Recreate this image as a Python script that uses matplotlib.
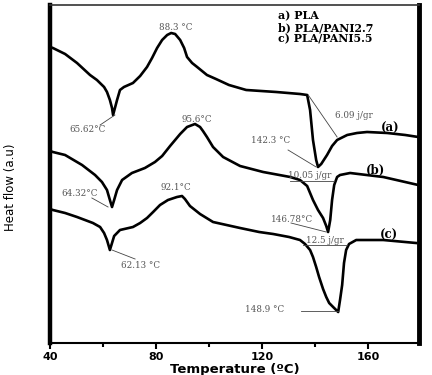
import numpy as np
import matplotlib.pyplot as plt
from matplotlib.ticker import MultipleLocator

plt.rcParams.update({
    "font.family": "DejaVu Sans",
    "axes.linewidth": 1.5,
})

# DSC traces: temperature (°C) and heat flow (a.u.)
t_pla = [40.0, 41.1, 45.7, 50.2, 55.1, 57.7, 60.4, 61.5, 62.6, 63.4, 63.8, 64.5, 65.3, 66.4,
         67.9, 71.3, 74.0, 76.6, 78.5, 80.4, 82.3, 84.2, 85.7, 87.2, 89.1, 90.6, 91.7, 93.6,
         95.5, 99.2, 102.6, 107.5, 114.0, 125.3, 134.3, 137.0, 138.1, 139.2, 140.4, 141.1,
         142.3, 144.5, 146.4, 148.3, 152.1, 155.8, 159.6, 167.2, 174.0, 178.9]
hf_pla = [296, 295, 289, 280, 268, 263, 256, 251, 243, 235, 228, 235, 243, 253,
          256, 260, 267, 276, 285, 295, 303, 308, 310, 309, 303, 295, 286, 280,
          276, 268, 264, 258, 253, 251, 249, 248, 233, 203, 183, 176,
          179, 188, 197, 203, 208, 210, 211, 210, 208, 206]

t_p27 = [40.0, 41.1, 45.7, 52.1, 57.0, 59.6, 61.5, 62.6, 63.4, 64.2, 65.3, 67.2, 70.9, 75.8,
         79.6, 82.3, 85.3, 87.2, 89.1, 91.7, 94.7, 96.6, 97.7, 99.2, 101.5, 105.3, 111.7,
         120.4, 130.6, 134.3, 137.0, 139.2, 141.1, 143.0, 144.2, 144.9, 145.7, 146.4, 147.2,
         148.3, 149.4, 153.2, 165.7, 178.9]
hf_p27 = [192, 191, 188, 178, 168, 161, 153, 143, 136, 143, 153, 163, 170, 175,
          181, 187, 197, 203, 209, 216, 219, 216, 212, 206, 196, 186, 177,
          171, 166, 163, 157, 143, 133, 125, 117, 111, 123, 143, 158,
          166, 168, 170, 166, 158]

t_p55 = [40.0, 41.1, 45.7, 50.2, 56.2, 58.9, 60.4, 61.5, 62.6, 63.4, 64.2, 66.4, 71.3, 74.0,
         76.6, 78.9, 81.5, 84.5, 87.9, 89.8, 90.9, 92.8, 96.6, 101.5, 111.7, 118.9, 124.2,
         130.2, 134.3, 136.2, 138.1, 139.2, 140.4, 141.5, 143.0, 144.2, 145.3, 146.8, 148.7,
         149.4, 150.2, 150.9, 151.7, 152.8, 155.5, 165.7, 178.1]
hf_p55 = [134, 133, 130, 126, 120, 116, 110, 103, 93, 100, 107, 113, 116, 120,
          125, 131, 138, 143, 146, 147, 144, 137, 129, 121, 115, 111, 109,
          106, 103, 99, 93, 86, 76, 66, 54, 46, 40, 36, 31,
          43, 58, 80, 93, 99, 103, 103, 100]

legend_lines = ["a) PLA", "b) PLA/PANI2.7", "c) PLA/PANI5.5"]

# annotation text, text position, leader line (x0, y0, x1, y1) or None
notes = [
    ("88.3 °C", 87.5, 315, None),
    ("65.62°C", 54.0, 213, (64.5, 228, 58.9, 218)),
    ("95.6°C", 95.5, 223, None),
    ("64.32°C", 51.3, 150, (55.8, 145, 61.9, 136)),
    ("92.1°C", 87.5, 156, None),
    ("62.13 °C", 74.3, 78, (63.4, 93, 72.1, 84)),
    ("6.09 j/gr", 154.7, 227, (137.4, 248, 148.3, 206)),
    ("142.3 °C", 123.4, 202, (129.8, 193, 140.4, 176)),
    ("10.05 j/gr", 138.1, 168, (130.6, 162, 147.2, 162)),
    ("146.78°C", 131.3, 124, (130.9, 120, 144.2, 111)),
    ("12.5 j/gr", 143.8, 103, (135.5, 98, 152.1, 98)),
    ("148.9 °C", 121.1, 34, (134.7, 32, 148.7, 32)),
]
curve_tags = [("(a)", 168.3, 215), ("(b)", 162.6, 173), ("(c)", 167.9, 108)]

fig = plt.figure(figsize=(4.32, 3.75), dpi=100)
ax = fig.add_axes([0.1157, 0.0853, 0.8543, 0.9014])

for t, hf in [(t_pla, hf_pla), (t_p27, hf_p27), (t_p55, hf_p55)]:
    ax.plot(t, hf, color="black", linewidth=1.9, solid_joinstyle="round")

for txt, x, y, line in notes:
    ax.text(x, y, txt, fontsize=6.3, family="DejaVu Serif", color="#555555",
            ha="center", va="center")
    if line is not None:
        ax.plot([line[0], line[2]], [line[1], line[3]], color="#444444", linewidth=0.6)

for txt, x, y in curve_tags:
    ax.text(x, y, txt, fontsize=8.5, family="DejaVu Serif", fontweight="bold",
            ha="center", va="center")

for i, txt in enumerate(legend_lines):
    ax.text(126.0, 327 - 11.5 * i, txt, fontsize=7.9, family="DejaVu Serif",
            fontweight="bold", ha="left", va="center")

ax.set_xlim(40, 179.2)
ax.set_ylim(0, 338)
ax.set_yticks([])
ax.xaxis.set_major_locator(MultipleLocator(40))
ax.xaxis.set_minor_locator(MultipleLocator(20))
ax.tick_params(axis="x", which="major", direction="out", length=4.5, width=1.5,
               labelsize=8, pad=2)
ax.tick_params(axis="x", which="minor", direction="out", length=3, width=1.5)
for lab in ax.get_xticklabels():
    lab.set_fontweight("bold")

ax.spines["left"].set_linewidth(3.2)
ax.spines["right"].set_linewidth(3.5)
ax.spines["top"].set_linewidth(1.2)
ax.spines["top"].set_color("#333333")
ax.spines["bottom"].set_linewidth(1.5)

ax.set_xlabel("Temperature (ºC)", fontsize=9.5, fontweight="bold", labelpad=1)
fig.text(0.025, 0.5, "Heat flow (a.u)", rotation=90, fontsize=8.5,
         family=["Liberation Sans Narrow", "DejaVu Sans"], ha="center", va="center")

fig.savefig("out.png", dpi=100)
